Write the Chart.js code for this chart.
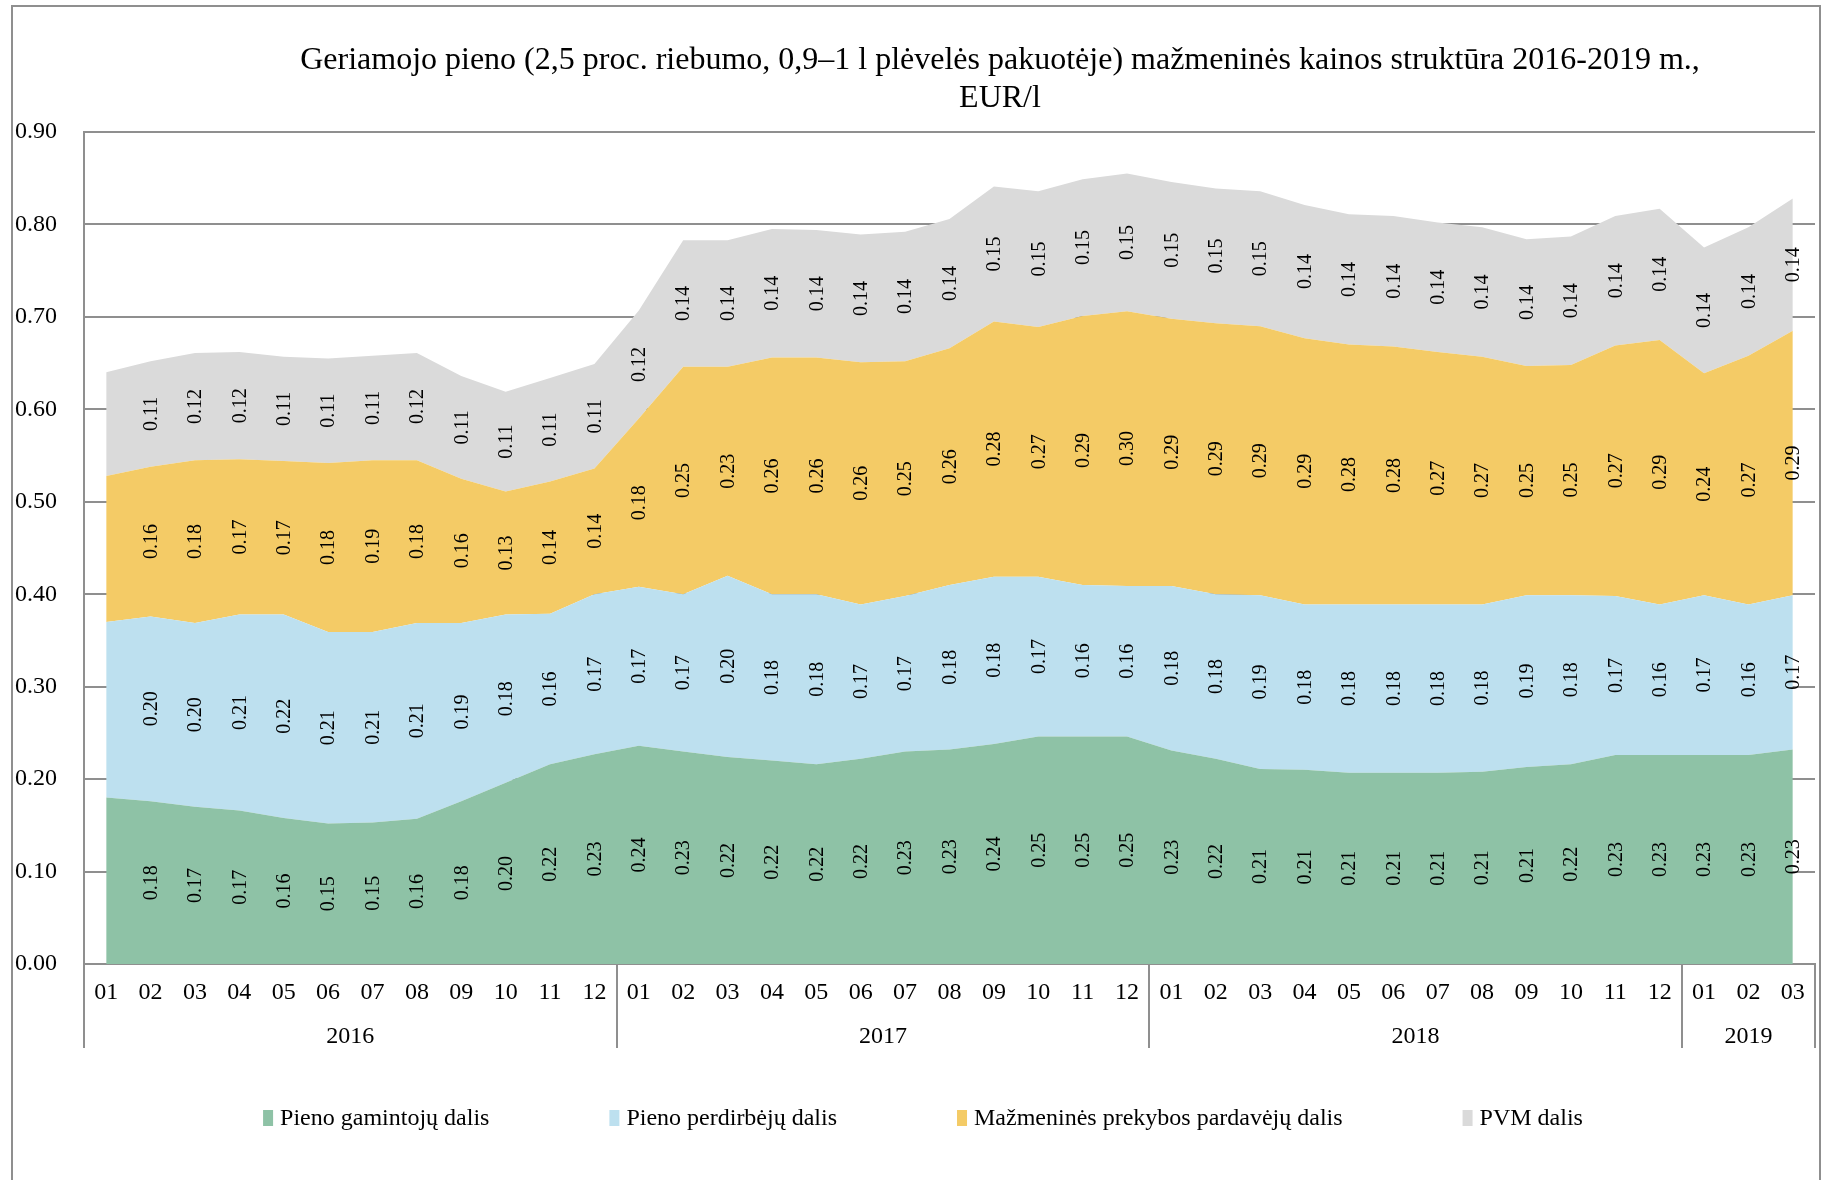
<!DOCTYPE html>
<html lang="lt">
<head>
<meta charset="utf-8">
<title>Geriamojo pieno mažmeninės kainos struktūra 2016-2019 m.</title>
<script src="https://cdn.jsdelivr.net/npm/chart.js@4.4.1/dist/chart.umd.min.js"></script>
<style>
	html, body { margin: 0; padding: 0; background: #ffffff; }
	#wrap { width: 1829px; height: 1180px; }
</style>
</head>
<body>
<div id="wrap"><canvas id="milk" width="1829" height="1180"></canvas></div>
<script>
// Series values, EUR/l, 2016-01 .. 2019-03.
var years         = [ '2016', '2017', '2018', '2019' ];
var monthsPerYear = [ 12, 12, 12, 3 ];
var monthNames    = [ '01', '02', '03', '04', '05', '06', '07', '08', '09', '10', '11', '12' ];

var producers = [
	0.180, 0.176, 0.170, 0.166, 0.158, 0.152, 0.153, 0.157, 0.176, 0.196, 0.216, 0.227,
	0.236, 0.230, 0.224, 0.220, 0.216, 0.222, 0.230, 0.232, 0.238, 0.246, 0.246, 0.246,
	0.231, 0.222, 0.211, 0.210, 0.207, 0.207, 0.207, 0.208, 0.213, 0.216, 0.226, 0.226,
	0.226, 0.226, 0.232
];
var processors = [
	0.190, 0.200, 0.199, 0.212, 0.220, 0.207, 0.206, 0.212, 0.193, 0.182, 0.163, 0.173,
	0.172, 0.170, 0.196, 0.180, 0.184, 0.167, 0.168, 0.178, 0.181, 0.173, 0.164, 0.163,
	0.178, 0.178, 0.188, 0.179, 0.182, 0.182, 0.182, 0.181, 0.186, 0.183, 0.172, 0.163,
	0.173, 0.163, 0.167
];
var retailers = [
	0.158, 0.162, 0.176, 0.168, 0.166, 0.183, 0.186, 0.176, 0.156, 0.133, 0.143, 0.136,
	0.182, 0.246, 0.226, 0.256, 0.256, 0.262, 0.254, 0.256, 0.276, 0.270, 0.291, 0.297,
	0.289, 0.293, 0.291, 0.288, 0.281, 0.279, 0.273, 0.268, 0.248, 0.249, 0.271, 0.286,
	0.240, 0.269, 0.286
];
var vat = [
	0.112, 0.114, 0.116, 0.116, 0.113, 0.113, 0.113, 0.116, 0.111, 0.108, 0.112, 0.113,
	0.117, 0.137, 0.137, 0.139, 0.138, 0.138, 0.140, 0.140, 0.146, 0.147, 0.148, 0.149,
	0.148, 0.146, 0.146, 0.144, 0.141, 0.141, 0.140, 0.140, 0.137, 0.139, 0.140, 0.142,
	0.136, 0.139, 0.143
];

var seriesNames  = [ 'Pieno gamintojų dalis', 'Pieno perdirbėjų dalis', 'Mažmeninės prekybos pardavėjų dalis', 'PVM dalis' ];
var seriesColors = [ '#8ec2a6', '#bde0ef', '#f4cb66', '#dadada' ];
var yTicks       = [ 0, 0.1, 0.2, 0.3, 0.4, 0.5, 0.6, 0.7, 0.8, 0.9 ];
var titleLines   = [ 'Geriamojo pieno (2,5 proc. riebumo, 0,9–1 l plėvelės pakuotėje) mažmeninės kainos struktūra 2016-2019 m.,', 'EUR/l' ];

var SERIF     = '"Liberation Serif", "Times New Roman", serif';
var GRID_GREY = '#8f8f8f';

// Month categories built from the year groups.
var categories = [];
years.forEach( function ( y, k ) {
	for ( var m = 0; m < monthsPerYear[ k ]; m++ ) {
		categories.push( monthNames[ m ] );
	}
} );

// Title, outer frame, year row, legend and the rotated value labels.
var excelDecor = {
	id: 'excelDecor',
	beforeDraw: function ( chart ) {
		var ctx = chart.ctx;
		ctx.save();
		ctx.fillStyle = '#ffffff';
		ctx.fillRect( 0, 0, chart.width, chart.height );
		ctx.strokeStyle = GRID_GREY;
		ctx.lineWidth = 2;
		ctx.strokeRect( 12, 6, 1808, chart.height + 10 );
		ctx.restore();
	},
	afterDatasetsDraw: function ( chart ) {
		var ctx    = chart.ctx;
		var yScale = chart.scales.y;
		var xScale = chart.scales.x;
		ctx.save();
		ctx.fillStyle = '#000000';
		ctx.font = '20px ' + SERIF;
		ctx.textAlign = 'center';
		ctx.textBaseline = 'middle';
		// the first month carries no labels in the original
		for ( var i = 1; i < categories.length; i++ ) {
			var base = 0;
			chart.data.datasets.forEach( function ( ds ) {
				var v  = ds.data[ i ];
				var px = xScale.getPixelForValue( i );
				var py = yScale.getPixelForValue( base + v / 2 );
				ctx.save();
				ctx.translate( px, py );
				ctx.rotate( -Math.PI / 2 );
				ctx.fillText( v.toFixed( 2 ), 0, 1 );
				ctx.restore();
				base += v;
			} );
		}
		ctx.restore();
	},
	afterDraw: function ( chart ) {
		var ctx    = chart.ctx;
		var xScale = chart.scales.x;
		var area   = chart.chartArea;
		ctx.save();

		// title
		ctx.fillStyle = '#000000';
		ctx.font = '32px ' + SERIF;
		ctx.textAlign = 'center';
		ctx.textBaseline = 'middle';
		ctx.fillText( titleLines[ 0 ], 1000, 61 );
		ctx.fillText( titleLines[ 1 ], 1000, 99 );

		// year groups under the month labels
		var half  = ( xScale.getPixelForValue( 1 ) - xScale.getPixelForValue( 0 ) ) / 2;
		var start = 0;
		ctx.strokeStyle = GRID_GREY;
		ctx.lineWidth = 2;
		ctx.font = '24px ' + SERIF;
		var edges = [ xScale.getPixelForValue( 0 ) - half ];
		years.forEach( function ( y, k ) {
			var end   = start + monthsPerYear[ k ] - 1;
			var left  = xScale.getPixelForValue( start ) - half;
			var right = xScale.getPixelForValue( end ) + half;
			edges.push( right );
			ctx.fillText( y, ( left + right ) / 2, 1037 );
			start = end + 1;
		} );
		edges.forEach( function ( x ) {
			ctx.beginPath();
			ctx.moveTo( Math.round( x ), area.bottom );
			ctx.lineTo( Math.round( x ), 1048 );
			ctx.stroke();
		} );

		// legend
		ctx.textAlign = 'left';
		var gap    = 120;
		var widths = seriesNames.map( function ( n ) {
			return 17 + ctx.measureText( n ).width;
		} );
		var total = widths.reduce( function ( a, b ) { return a + b; }, 0 ) + gap * ( widths.length - 1 );
		var lx    = 923 - total / 2;
		seriesNames.forEach( function ( n, k ) {
			ctx.fillStyle = seriesColors[ k ];
			ctx.fillRect( lx, 1110, 10, 16 );
			ctx.fillStyle = '#000000';
			ctx.fillText( n, lx + 17, 1119 );
			lx += widths[ k ] + gap;
		} );

		ctx.restore();
	},
};

var values = [ producers, processors, retailers, vat ];

var config = {
	type: 'line',
	data: {
		labels: categories,
		datasets: values.map( function ( arr, k ) {
			return {
				label: seriesNames[ k ],
				data: arr,
				fill: k === 0 ? 'origin' : '-1',
				backgroundColor: seriesColors[ k ],
				borderColor: seriesColors[ k ],
				borderWidth: 0,
				pointRadius: 0,
				pointHoverRadius: 0,
				tension: 0,
			};
		} ),
	},
	plugins: [ excelDecor ],
	options: {
		responsive: false,
		animation: false,
		devicePixelRatio: 1,
		events: [],
		layout: {
			padding: { top: 132, right: 14, bottom: 0, left: 0 },
		},
		plugins: {
			legend: { display: false },
			tooltip: { enabled: false },
			title: { display: false },
		},
		scales: {
			x: {
				type: 'category',
				offset: true,
				z: 1,
				grid: { display: false, drawTicks: false },
				border: { display: true, color: GRID_GREY, width: 2 },
				ticks: {
					autoSkip: false,
					maxRotation: 0,
					padding: 14,
					color: '#000000',
					font: { family: SERIF, size: 24 },
				},
				afterFit: function ( scale ) {
					scale.height = 216;
				},
			},
			y: {
				stacked: true,
				min: 0,
				max: 0.9,
				afterBuildTicks: function ( scale ) {
					scale.ticks = yTicks.map( function ( v ) { return { value: v }; } );
				},
				grid: { color: GRID_GREY, lineWidth: 2, drawTicks: false },
				border: { display: true, color: GRID_GREY, width: 2 },
				ticks: {
					padding: 27,
					color: '#000000',
					font: { family: SERIF, size: 24 },
					callback: function ( value ) {
						return Number( value ).toFixed( 2 );
					},
				},
				afterFit: function ( scale ) {
					scale.width = 84;
				},
			},
		},
	},
};

new Chart( document.getElementById( 'milk' ), config );
</script>
</body>
</html>
